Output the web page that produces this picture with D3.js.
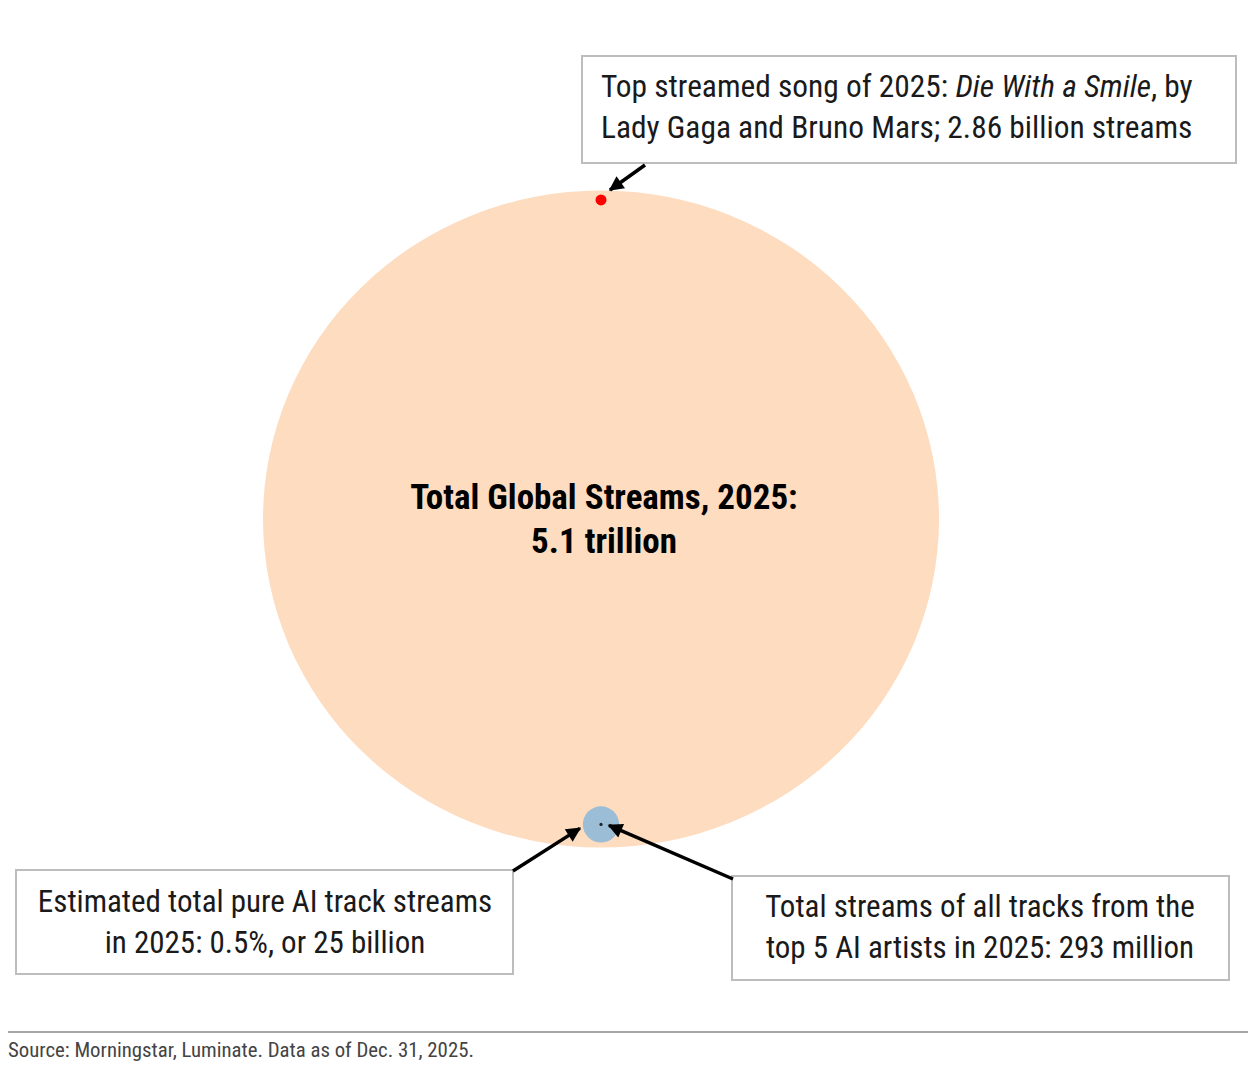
<!DOCTYPE html>
<html>
<head>
<meta charset="utf-8">
<script src="https://cdn.jsdelivr.net/npm/d3@7"></script>
<style>
  body { margin: 0; background: #fff; }
  text { font-family: "Roboto Condensed", Roboto, sans-serif; font-stretch: condensed; }
</style>
</head>
<body>
<svg id="chart" width="1252" height="1068"></svg>
<script>
// streams in billions
var names = ["total", "topSong", "aiTracks", "aiArtists"];
var streams = [5100, 2.86, 25, 0.293];
var fills = ["#fedcc0", "#ff0000", "#9bbdd5", "#222222"];

var titleLines = ["Total Global Streams, 2025:", "5.1 trillion"];
var songLines = [
    [{ t: "Top streamed song of 2025: " }, { t: "Die With a Smile", i: true }, { t: ", by" }],
    [{ t: "Lady Gaga and Bruno Mars; 2.86 billion streams" }]
];
var aiLines = ["Estimated total pure AI track streams", "in 2025: 0.5%, or 25 billion"];
var artistLines = ["Total streams of all tracks from the", "top 5 AI artists in 2025: 293 million"];
var sourceText = "Source: Morningstar, Luminate. Data as of Dec. 31, 2025.";

var svg = d3.select("#chart");

// bubble size scale (the original is not strictly area-true, so pow ~0.55)
var r = d3.scalePow().exponent(0.55).domain([0, 5100]).range([0, 338]);
var squash = 0.972; // the picture is slightly squashed vertically
var cx = 601, cy = 519;

var bigR = r(streams[0]);
var bigRy = bigR * squash;

svg.append("defs").append("marker")
    .attr("id", "head")
    .attr("viewBox", "0 0 10 10")
    .attr("refX", 9).attr("refY", 5)
    .attr("markerWidth", 4.6).attr("markerHeight", 4.2)
    .attr("markerUnits", "strokeWidth")
    .attr("orient", "auto")
    .append("path")
    .attr("d", "M0,0 L10,5 L0,10 z")
    .attr("fill", "#000");

// big bubble
svg.append("ellipse")
    .attr("cx", cx).attr("cy", cy)
    .attr("rx", bigR).attr("ry", bigRy)
    .attr("fill", fills[0]);

// small bubbles sit just inside the big one
var songR = r(streams[1]);
var aiR = r(streams[2]);
var artR = r(streams[3]);
var songY = cy - bigRy + songR + 4;
var aiY = cy + bigRy - aiR - 5;

svg.append("circle").attr("cx", cx).attr("cy", songY).attr("r", songR).attr("fill", fills[1]);
svg.append("circle").attr("cx", cx).attr("cy", aiY).attr("r", aiR).attr("fill", fills[2]);
svg.append("circle").attr("cx", cx).attr("cy", aiY).attr("r", artR).attr("fill", fills[3]);

// title in the middle
svg.append("g").selectAll("text")
    .data(titleLines)
    .enter().append("text")
    .attr("x", cx + 3)
    .attr("y", function (d, i) { return 509 + i * 44; })
    .attr("text-anchor", "middle")
    .attr("font-size", 35)
    .attr("font-weight", "bold")
    .attr("fill", "#000")
    .text(function (d) { return d; });

// annotation boxes
function box(x, y, w, h) {
    svg.append("rect")
        .attr("x", x).attr("y", y)
        .attr("width", w).attr("height", h)
        .attr("fill", "#fff")
        .attr("stroke", "#bdbdbd")
        .attr("stroke-width", 2);
}

box(582, 56, 654, 107);
var songText = svg.append("g");
songLines.forEach(function (line, i) {
    var t = songText.append("text")
        .attr("x", 601)
        .attr("y", 97 + i * 41)
        .attr("font-size", 31.4)
        .attr("fill", "#1a1a1a");
    t.selectAll("tspan")
        .data(line)
        .enter().append("tspan")
        .attr("font-style", function (d) { return d.i ? "italic" : "normal"; })
        .text(function (d) { return d.t; });
});

box(16, 870, 497, 104);
svg.append("g").selectAll("text")
    .data(aiLines)
    .enter().append("text")
    .attr("x", 265)
    .attr("y", function (d, i) { return 912 + i * 41; })
    .attr("text-anchor", "middle")
    .attr("font-size", 31)
    .attr("fill", "#1a1a1a")
    .text(function (d) { return d; });

box(732, 876, 497, 104);
svg.append("g").selectAll("text")
    .data(artistLines)
    .enter().append("text")
    .attr("x", 980)
    .attr("y", function (d, i) { return 917 + i * 41; })
    .attr("text-anchor", "middle")
    .attr("font-size", 31)
    .attr("fill", "#1a1a1a")
    .text(function (d) { return d; });

// arrows
function arrow(x1, y1, x2, y2) {
    svg.append("line")
        .attr("x1", x1).attr("y1", y1)
        .attr("x2", x2).attr("y2", y2)
        .attr("stroke", "#000")
        .attr("stroke-width", 3.5)
        .attr("marker-end", "url(#head)");
}
arrow(645, 165, cx + 9, songY - 10);
arrow(513, 871, cx - aiR - 3, aiY + 4);
arrow(733, 879, cx + 8, aiY + 1);

// footer
svg.append("line")
    .attr("x1", 8).attr("x2", 1248)
    .attr("y1", 1032).attr("y2", 1032)
    .attr("stroke", "#8a8a8a")
    .attr("stroke-width", 1.5);

svg.append("text")
    .attr("x", 8).attr("y", 1057)
    .attr("font-size", 20.8)
    .attr("fill", "#444")
    .text(sourceText);
</script>
</body>
</html>
